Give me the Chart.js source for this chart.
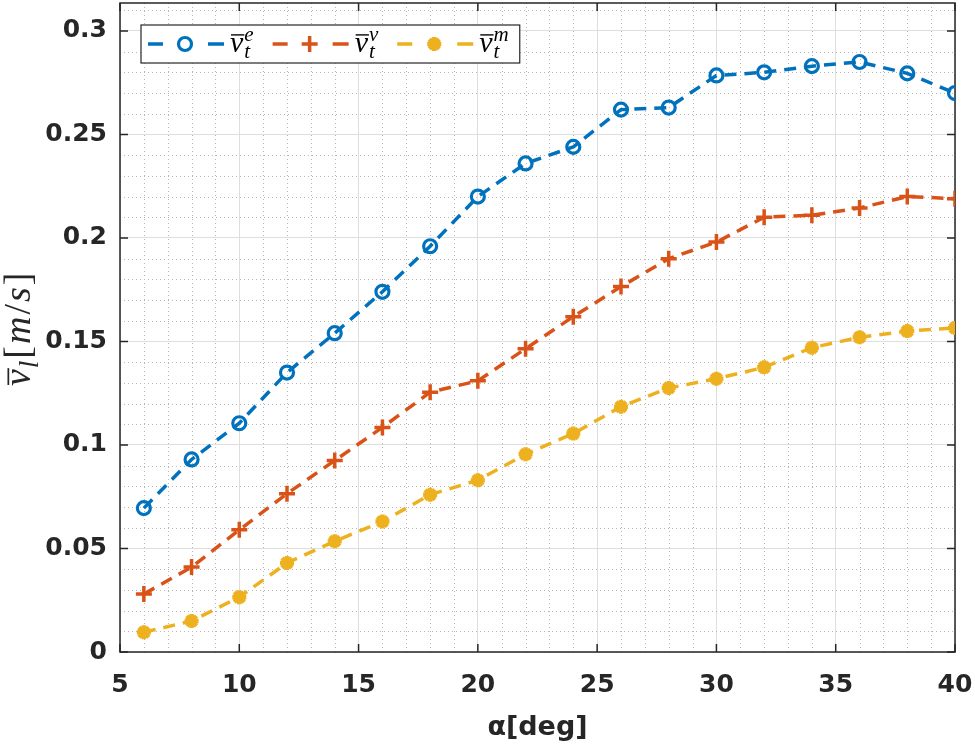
<!DOCTYPE html>
<html>
<head>
<meta charset="utf-8">
<script src="https://cdn.jsdelivr.net/npm/chart.js@4.4.0/dist/chart.umd.min.js"></script>
<style>
  body { margin: 0; background: #fff; }
  #wrap { width: 975px; height: 752px; }
</style>
</head>
<body>
<div id="wrap"><canvas id="myChart"></canvas></div>
<script>
'use strict';

// angle of attack [deg]
const angles = [6, 8, 10, 12, 14, 16, 18, 20, 22, 24, 26, 28, 30, 32, 34, 36, 38, 40];
// mean velocities [m/s]
const vtE = [0.0695, 0.093, 0.1105, 0.135, 0.154, 0.174, 0.196, 0.22, 0.236, 0.244, 0.262, 0.263, 0.2785, 0.28, 0.283, 0.285, 0.2795, 0.27];
const vtV = [0.028, 0.041, 0.059, 0.0765, 0.0925, 0.1085, 0.1255, 0.131, 0.1465, 0.162, 0.1765, 0.19, 0.198, 0.21, 0.211, 0.2145, 0.22, 0.219];
const vtM = [0.0095, 0.015, 0.0265, 0.043, 0.0535, 0.063, 0.076, 0.083, 0.0955, 0.1055, 0.1185, 0.1275, 0.132, 0.1375, 0.147, 0.152, 0.155, 0.1565];
const seriesSup = ['e', 'v', 'm'];
const xTicks = [5, 10, 15, 20, 25, 30, 35, 40];
const yTicks = [0, 0.05, 0.1, 0.15, 0.2, 0.25, 0.3];

const blue = '#0072BD';
const orange = '#D95319';
const yellow = '#EDB120';
const axisColor = '#262626';
const serif = '"Liberation Serif", "DejaVu Serif", serif';
const sans = '"DejaVu Sans", Arial, sans-serif';
const plotTop = 3;

function toPoints(vals) {
    return angles.map((a, i) => ({ x: a, y: vals[i] }));
}

// overlined italic v with sub / superscript, returns end x
function drawVar(ctx, x, y, sub, sup, size) {
    ctx.font = 'italic ' + size + 'px ' + serif;
    ctx.textBaseline = 'alphabetic';
    ctx.textAlign = 'left';
    ctx.fillText('v', x, y);
    const vw = ctx.measureText('v').width;
    ctx.save();
    ctx.lineWidth = size / 22;
    ctx.beginPath();
    ctx.moveTo(x + 1, y - size * 0.57);
    ctx.lineTo(x + vw + 1, y - size * 0.57);
    ctx.stroke();
    ctx.restore();
    const end = x + vw + 1;
    ctx.font = 'italic ' + Math.round(size * 0.7) + 'px ' + serif;
    let w1 = 0, w2 = 0;
    if (sub) { ctx.fillText(sub, end, y + size * 0.2); w1 = ctx.measureText(sub).width; }
    if (sup) { ctx.fillText(sup, end, y - size * 0.37); w2 = ctx.measureText(sup).width; }
    return end + Math.max(w1, w2);
}

const matlabAxes = {
    id: 'matlabAxes',
    afterLayout(chart) {
        // pull the plot box up to the top edge like the figure
        const a = chart.chartArea;
        const d = a.top - plotTop;
        if (d !== 0) {
            a.top = plotTop;
            a.height += d;
            const ys = chart.scales.y;
            ys.top = plotTop;
            ys.height += d;
            ys.configure();
        }
    },
    beforeDatasetsDraw(chart) {
        const { ctx, chartArea: a, scales: { x, y } } = chart;
        ctx.save();
        // minor grid, dotted
        ctx.strokeStyle = '#b8b8b8';
        ctx.lineWidth = 1;
        ctx.setLineDash([1, 3]);
        for (let v = 6; v < 40; v++) {
            if (v % 5 === 0) continue;
            const px = Math.round(x.getPixelForValue(v)) + 0.5;
            ctx.beginPath(); ctx.moveTo(px, a.top); ctx.lineTo(px, a.bottom); ctx.stroke();
        }
        for (let k = 1; k <= 31; k++) {
            if (k % 5 === 0) continue;
            const py = Math.round(y.getPixelForValue(k / 100)) + 0.5;
            ctx.beginPath(); ctx.moveTo(a.left, py); ctx.lineTo(a.right, py); ctx.stroke();
        }
        ctx.setLineDash([]);
        // box + inward ticks
        ctx.strokeStyle = axisColor;
        ctx.lineWidth = 1.5;
        ctx.strokeRect(a.left, a.top, a.right - a.left, a.bottom - a.top);
        const tl = 8;
        xTicks.forEach(v => {
            const px = x.getPixelForValue(v);
            ctx.beginPath();
            ctx.moveTo(px, a.bottom); ctx.lineTo(px, a.bottom - tl);
            ctx.moveTo(px, a.top); ctx.lineTo(px, a.top + tl);
            ctx.stroke();
        });
        yTicks.forEach(v => {
            const py = y.getPixelForValue(v);
            ctx.beginPath();
            ctx.moveTo(a.left, py); ctx.lineTo(a.left + tl, py);
            ctx.moveTo(a.right, py); ctx.lineTo(a.right - tl, py);
            ctx.stroke();
        });
        ctx.restore();
    },
    afterDatasetsDraw(chart) {
        const { ctx, chartArea: a } = chart;
        ctx.save();
        // axis titles
        ctx.fillStyle = axisColor;
        ctx.font = 'bold 27px ' + sans;
        ctx.textAlign = 'center';
        ctx.textBaseline = 'middle';
        ctx.fillText('\u03b1[deg]', (a.left + a.right) / 2, 728);

        ctx.save();
        ctx.translate(30, 386);
        ctx.rotate(-Math.PI / 2);
        ctx.strokeStyle = axisColor;
        const fs = 38;
        let cx = drawVar(ctx, 0, 0, 'l', null, fs) + 2;
        const parts = [['[', ''], ['m', 'italic '], ['/', ''], ['s', 'italic '], [']', '']];
        parts.forEach(p => {
            ctx.font = p[1] + fs + 'px ' + serif;
            ctx.fillText(p[0], cx, 0);
            cx += ctx.measureText(p[0]).width + 2;
        });
        ctx.restore();

        // legend
        const bx = 141, by = 25, bh = 38;
        const lf = 30;
        const items = chart.data.datasets;
        const cy = by + bh / 2;
        let x0 = bx + 7;
        const starts = [];
        let textEnd = 0;
        items.forEach((ds, i) => {
            starts.push(x0);
            ctx.font = 'italic ' + lf + 'px ' + serif;
            const vw = ctx.measureText('v').width + 1;
            ctx.font = 'italic ' + Math.round(lf * 0.7) + 'px ' + serif;
            const sw = Math.max(ctx.measureText('t').width, ctx.measureText(seriesSup[i]).width);
            textEnd = x0 + 82 + vw + sw;
            x0 = textEnd + 19;
        });
        const bw = textEnd + 11 - bx;
        ctx.fillStyle = '#fff';
        ctx.fillRect(bx, by, bw, bh);
        ctx.strokeStyle = axisColor;
        ctx.lineWidth = 1.2;
        ctx.strokeRect(bx, by, bw, bh);
        items.forEach((ds, i) => {
            const s = starts[i];
            ctx.strokeStyle = ds.borderColor;
            ctx.lineWidth = ds.borderWidth;
            ctx.beginPath();
            ctx.moveTo(s, cy); ctx.lineTo(s + 15, cy);
            ctx.moveTo(s + 60, cy); ctx.lineTo(s + 76, cy);
            ctx.stroke();
            ctx.fillStyle = ds.pointBackgroundColor;
            ctx.lineWidth = ds.pointBorderWidth;
            Chart.helpers.drawPoint(ctx, {
                pointStyle: ds.pointStyle, radius: ds.pointRadius,
                borderWidth: ds.pointBorderWidth, rotation: 0
            }, s + 37, cy);
            ctx.fillStyle = '#000';
            ctx.strokeStyle = '#000';
            drawVar(ctx, s + 82, cy + 8, 't', seriesSup[i], lf);
        });
        ctx.restore();
    }
};

const ctx = document.getElementById('myChart').getContext('2d');
const myChart = new Chart(ctx, {
    type: 'line',
    data: {
        datasets: [{
            label: 'vt e',
            data: toPoints(vtE),
            borderColor: blue,
            borderWidth: 3.5,
            borderDash: [12, 8],
            pointStyle: 'circle',
            pointRadius: 6.5,
            pointBorderWidth: 3.2,
            pointBorderColor: blue,
            pointBackgroundColor: 'rgba(0,0,0,0)'
        }, {
            label: 'vt v',
            data: toPoints(vtV),
            borderColor: orange,
            borderWidth: 3.5,
            borderDash: [12, 8],
            pointStyle: 'cross',
            pointRadius: 8,
            pointBorderWidth: 3.5,
            pointBorderColor: orange,
            pointBackgroundColor: orange
        }, {
            label: 'vt m',
            data: toPoints(vtM),
            borderColor: yellow,
            borderWidth: 3.5,
            borderDash: [12, 8],
            pointStyle: 'star',
            pointRadius: 7,
            pointBorderWidth: 4.5,
            pointBorderColor: yellow,
            pointBackgroundColor: yellow
        }]
    },
    options: {
        responsive: true,
        maintainAspectRatio: false,
        animation: false,
        devicePixelRatio: 1,
        layout: { padding: { top: 3, right: 20, left: 0, bottom: 0 } },
        plugins: {
            legend: { display: false },
            tooltip: { enabled: false }
        },
        scales: {
            x: {
                type: 'linear',
                min: 5,
                max: 40,
                afterBuildTicks(scale) { scale.ticks = xTicks.map(v => ({ value: v })); },
                afterFit(scale) {
                    scale.height = 100;
                    scale.paddingLeft = 0;
                    scale.paddingRight = 0;
                },
                ticks: {
                    color: axisColor,
                    padding: 18,
                    maxRotation: 0,
                    font: { family: sans, size: 25, weight: 'bold' }
                },
                grid: { color: '#dedede', lineWidth: 1, drawTicks: false },
                border: { display: false }
            },
            y: {
                type: 'linear',
                min: 0,
                max: 0.3135,
                afterBuildTicks(scale) { scale.ticks = yTicks.map(v => ({ value: v })); },
                afterFit(scale) {
                    scale.width = 120;
                },
                ticks: {
                    color: axisColor,
                    padding: 13,
                    font: { family: sans, size: 25, weight: 'bold' },
                    callback: v => String(+v.toFixed(2))
                },
                grid: { color: '#dedede', lineWidth: 1, drawTicks: false },
                border: { display: false }
            }
        }
    },
    plugins: [matlabAxes]
});
</script>
</body>
</html>
